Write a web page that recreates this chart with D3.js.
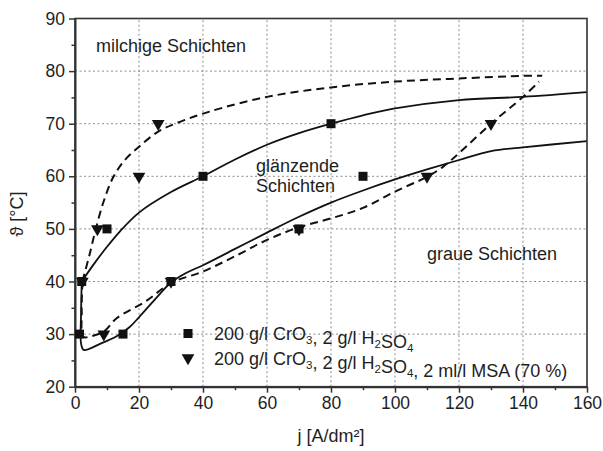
<!DOCTYPE html>
<html>
<head>
<meta charset="utf-8">
<script src="https://cdn.jsdelivr.net/npm/d3@7"></script>
<style>
  body { margin: 0; background: #fff; }
  text { font-family: "Liberation Sans", Arial, Helvetica, sans-serif; fill: #1e1e1e; }
</style>
</head>
<body>
<svg id="chart" width="603" height="451"></svg>
<script>
// Axis ticks
const xTicks = [0, 20, 40, 60, 80, 100, 120, 140, 160];
const yTicks = [20, 30, 40, 50, 60, 70, 80, 90];
const xMinor = [10, 30, 50, 70, 90, 110, 130, 150];
const yMinor = [25, 35, 45, 55, 65, 75, 85];

// Measured points: 200 g/l CrO3, 2 g/l H2SO4
const squareJ = [1.4, 2.1, 10, 15, 30, 40, 70, 80, 90];
const squareT = [30, 40, 50, 30, 40, 60, 50, 70, 60];

// Measured points: with 2 ml/l MSA
const triangleJ = [2.3, 7, 9, 20, 26, 30, 70, 110, 130];
const triangleT = [40, 50, 30, 60, 70, 40, 50, 60, 70];

// Boundary lines (solid: without MSA, dashed: with MSA)
const solidUpper = [[2.1,40],[6,43.4],[10,46.6],[14,49.5],[20,53.1],[30,57],[40,60],[50,63.2],[60,66],[70,68.2],[80,70],[90,71.6],[100,72.9],[120,74.5],[140,75.1],[160,76]];
const solidLower = [[2.1,40],[1.9,34],[1.9,28.2],[2.7,27],[8,28.2],[13,29.6],[17,31.3],[20,33.2],[25,36.6],[30,39.8],[35,41.7],[40,43.1],[50,46.2],[60,49.3],[70,52.3],[80,55],[90,57.3],[100,59.4],[110,61.3],[120,63.1],[130,64.8],[140,65.5],[160,66.7]];
const dashedUpper = [[2.3,40],[4.5,45],[6.5,50],[9,55.3],[12,59.9],[15.6,63.1],[20,65.6],[26,68.5],[33,70.4],[42,72.3],[60,75.1],[80,76.9],[100,78],[120,78.6],[140,79.1],[146,79.1]];
const dashedLower = [[2.3,40],[2.1,34],[2.6,29.5],[5,29.6],[9,30.5],[13,33],[22,36.2],[30,39.7],[40,41.9],[50,44.8],[60,47.9],[70,50.3],[80,52],[90,54],[100,57.1],[110,59.9],[115,61.8],[120,64.4],[130,70],[140,75.1],[145,78]];

const svg = d3.select("#chart");
const margin = { left: 75, right: 16, top: 18.5, bottom: 64.3 };
const W = 603, H = 451;
const x = d3.scaleLinear().domain([0, 160]).range([margin.left, W - margin.right]);
const y = d3.scaleLinear().domain([20, 90]).range([H - margin.bottom, margin.top]);

// Grid
const grid = svg.append("g").attr("stroke", "#8a8a8a").attr("stroke-width", 1).attr("stroke-dasharray", "2,2.5");
grid.selectAll(".gx").data(xTicks.slice(1, -1)).join("line")
  .attr("x1", d => x(d)).attr("x2", d => x(d)).attr("y1", y(20)).attr("y2", y(90));
grid.selectAll(".gy").data(yTicks.slice(1, -1)).join("line")
  .attr("y1", d => y(d)).attr("y2", d => y(d)).attr("x1", x(0)).attr("x2", x(160));

// Curves
const line = d3.line().x(d => x(d[0])).y(d => y(d[1])).curve(d3.curveCatmullRom.alpha(0.5));
const curves = svg.append("g").attr("fill", "none").attr("stroke", "#111");
[solidUpper, solidLower].forEach(c => curves.append("path").attr("d", line(c)).attr("stroke-width", 1.8));
[dashedUpper, dashedLower].forEach(c => curves.append("path").attr("d", line(c)).attr("stroke-width", 2).attr("stroke-dasharray", "8,5"));

// Frame
svg.append("rect").attr("x", x(0)).attr("y", y(90)).attr("width", x(160) - x(0)).attr("height", y(20) - y(90))
  .attr("fill", "none").attr("stroke", "#333").attr("stroke-width", 1.6);

// Axes
const fs = "18px";
svg.append("g").attr("transform", `translate(0,${y(20)})`)
  .call(d3.axisBottom(x).tickValues(xTicks).tickSize(6).tickSizeOuter(0).tickPadding(4));
svg.append("g").attr("transform", `translate(0,${y(20)})`)
  .call(d3.axisBottom(x).tickValues(xMinor).tickSize(3.5).tickFormat(""))
  .call(g => g.select(".domain").remove());
svg.append("g").attr("transform", `translate(${x(0)},0)`)
  .call(d3.axisLeft(y).tickValues(yTicks).tickSize(6).tickSizeOuter(0).tickPadding(4));
svg.append("g").attr("transform", `translate(${x(0)},0)`)
  .call(d3.axisLeft(y).tickValues(yMinor).tickSize(3.5).tickFormat(""))
  .call(g => g.select(".domain").remove());
svg.selectAll(".domain").attr("stroke", "#333").attr("stroke-width", 2);
svg.selectAll(".tick line").attr("stroke", "#333").attr("stroke-width", 1.5);
svg.selectAll(".tick text").attr("font-size", "17.5px").attr("fill", "#1e1e1e")
  .attr("font-family", "'Liberation Sans', Arial, sans-serif");

// Markers
const sq = 9;
svg.append("g").selectAll("rect").data(squareJ.map((j, i) => [j, squareT[i]])).join("rect")
  .attr("x", d => x(d[0]) - sq / 2).attr("y", d => y(d[1]) - sq / 2)
  .attr("width", sq).attr("height", sq).attr("fill", "#111");
const tri = d3.symbol().type(d3.symbolTriangle).size(70);
svg.append("g").selectAll("path").data(triangleJ.map((j, i) => [j, triangleT[i]])).join("path")
  .attr("d", tri).attr("transform", d => `translate(${x(d[0])},${y(d[1])}) rotate(180)`).attr("fill", "#111");

// Region labels
const lab = svg.append("g").attr("font-size", fs);
lab.append("text").attr("x", 96).attr("y", 52).text("milchige Schichten");
lab.append("text").attr("x", 256).attr("y", 172).text("glänzende");
lab.append("text").attr("x", 256).attr("y", 192).text("Schichten");
lab.append("text").attr("x", 427).attr("y", 260).text("graue Schichten");

// Legend
const leg = svg.append("g");
leg.append("rect").attr("x", 188 - sq / 2).attr("y", 333.5 - sq / 2).attr("width", sq).attr("height", sq).attr("fill", "#111");
leg.append("path").attr("d", tri).attr("transform", "translate(188,358) rotate(180)").attr("fill", "#111");
function legText(yPos, parts) {
  const t = leg.append("text").attr("x", 214).attr("y", yPos).attr("font-size", fs);
  parts.forEach(p => {
    if (p.sub) {
      t.append("tspan").attr("font-size", "11.5px").attr("dy", 4).text(p.sub);
      t.append("tspan").attr("dy", -4).text("");
    } else {
      t.append("tspan").text(p.t);
    }
  });
}
legText(340, [{t: "200 g/l CrO"}, {sub: "3"}, {t: ", 2 g/l H"}, {sub: "2"}, {t: "SO"}, {sub: "4"}]);
legText(365, [{t: "200 g/l CrO"}, {sub: "3"}, {t: ", 2 g/l H"}, {sub: "2"}, {t: "SO"}, {sub: "4"}, {t: ", 2 ml/l MSA (70 %)"}]);

// Axis titles
svg.append("text").attr("x", x(80)).attr("y", 442).attr("text-anchor", "middle").attr("font-size", fs).text("j [A/dm²]");
svg.append("text").attr("transform", "translate(23,214) rotate(-90)").attr("text-anchor", "middle").attr("font-size", fs).text("ϑ [°C]");
</script>
</body>
</html>
